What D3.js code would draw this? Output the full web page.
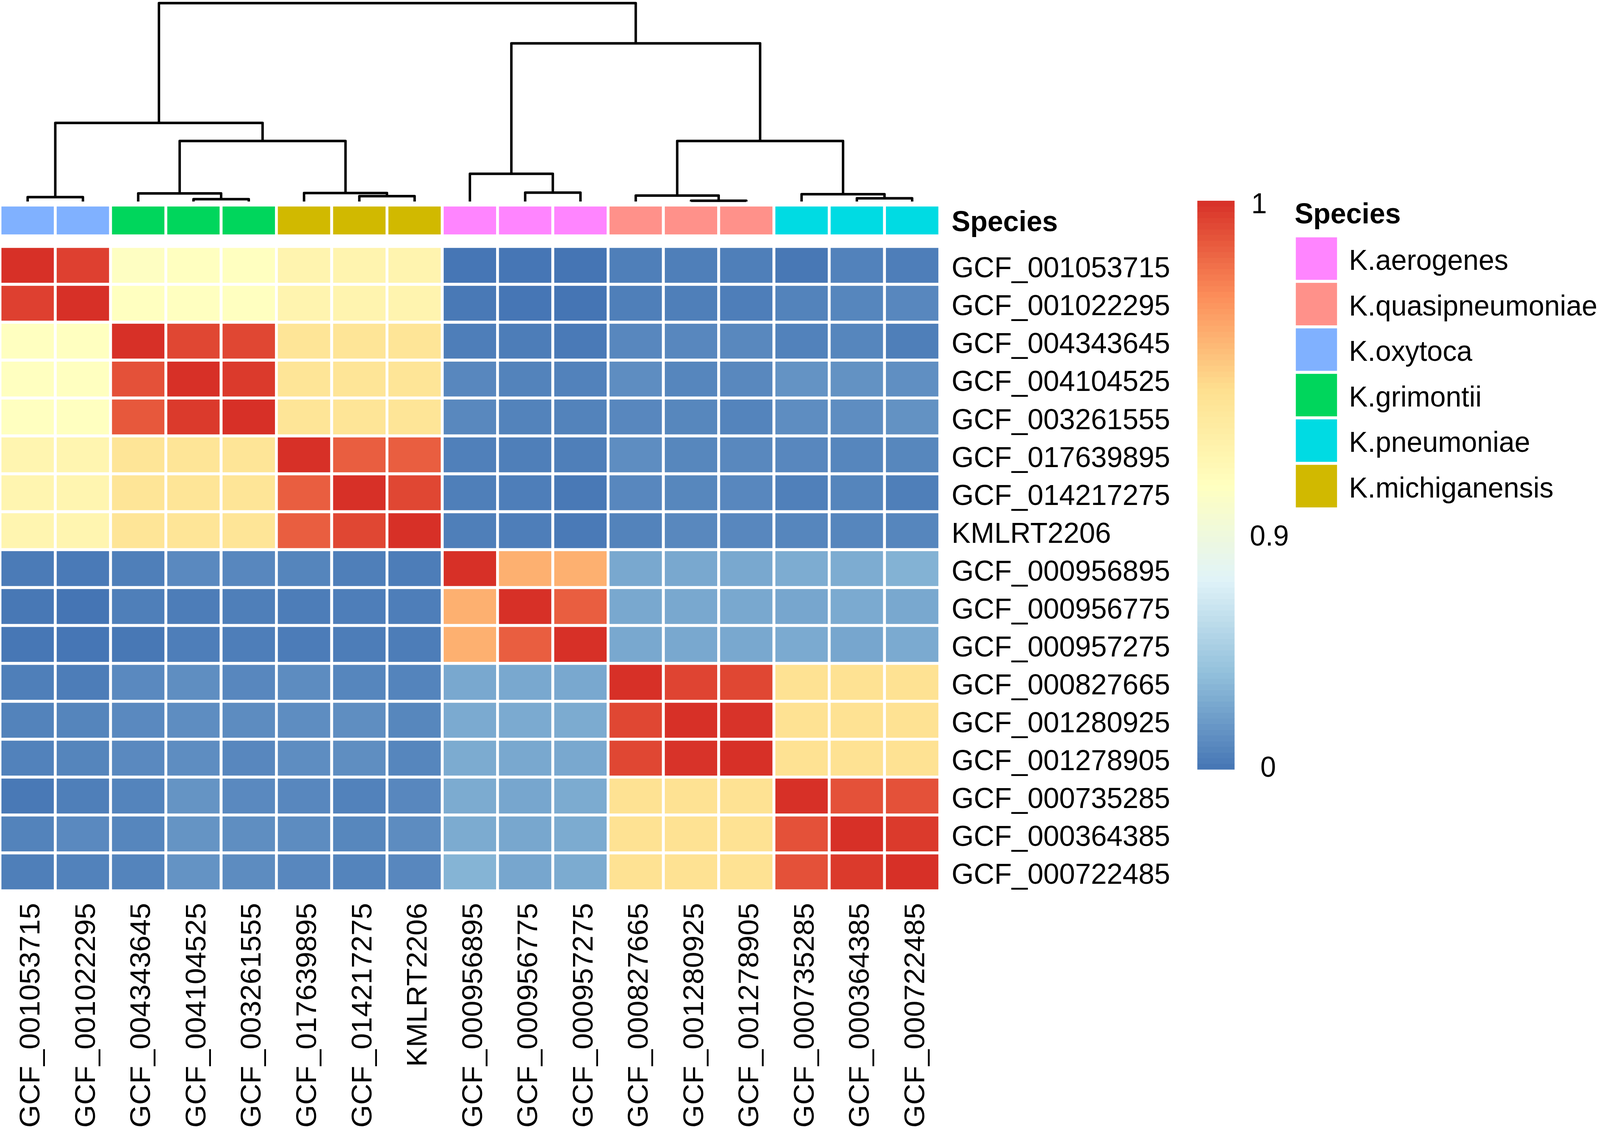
<!DOCTYPE html>
<html>
<head>
<meta charset="utf-8">
<script src="https://cdn.jsdelivr.net/npm/d3@7"></script>
<style>
  html, body { margin: 0; padding: 0; background: #ffffff; overflow: hidden; }
  text { font-family: "Liberation Sans", Arial, sans-serif; fill: #000000; }
</style>
</head>
<body>
<div id="chart"></div>
<script>
// Genomes, in the order of the clustered rows and columns.
const genomes = [
  'GCF_001053715', 'GCF_001022295', 'GCF_004343645', 'GCF_004104525', 'GCF_003261555',
  'GCF_017639895', 'GCF_014217275', 'KMLRT2206', 'GCF_000956895', 'GCF_000956775',
  'GCF_000957275', 'GCF_000827665', 'GCF_001280925', 'GCF_001278905', 'GCF_000735285',
  'GCF_000364385', 'GCF_000722485'
];

const speciesNames = [ 'K.aerogenes', 'K.quasipneumoniae', 'K.oxytoca', 'K.grimontii', 'K.pneumoniae', 'K.michiganensis' ];
const speciesColors = [ '#ff85ff', '#ff918a', '#80b1ff', '#00d65c', '#00dbe3', '#d1b900' ];
const genomeSpecies = [ 2, 2, 3, 3, 3, 5, 5, 5, 0, 0, 0, 1, 1, 1, 4, 4, 4 ];

// Similarity values.
const similarity = [
  [ 1, .995, .914, .915, .915, .925, .925, .925, .005, .005, 0, .048, .048, .048, .014, .063, .043 ],
  [ .995, 1, .915, .915, .915, .925, .925, .925, .019, .005, 0, .048, .048, .043, .067, .082, .091 ],
  [ .915, .915, 1, .993, .993, .939, .939, .939, .043, .038, .024, .091, .091, .096, .063, .082, .048 ],
  [ .915, .915, .990, 1, .997, .939, .939, .939, .091, .067, .063, .120, .082, .096, .149, .144, .130 ],
  [ .915, .915, .988, .997, 1, .939, .939, .939, .096, .067, .067, .091, .087, .072, .120, .120, .144 ],
  [ .924, .924, .939, .939, .939, 1, .986, .986, .053, .048, .048, .120, .087, .096, .091, .082, .087 ],
  [ .924, .924, .939, .939, .939, .986, 1, .993, .048, .043, .019, .091, .087, .091, .053, .077, .048 ],
  [ .924, .924, .939, .939, .939, .986, .993, 1, .048, .043, .024, .067, .096, .091, .082, .082, .082 ],
  [ .029, .024, .048, .101, .091, .077, .048, .038, 1, .960, .960, .250, .250, .250, .270, .270, .300 ],
  [ .014, 0, .048, .038, .048, .038, .043, .043, .960, 1, .986, .250, .250, .250, .240, .260, .250 ],
  [ .010, .005, .014, .043, .043, .034, .038, .038, .960, .986, 1, .250, .250, .250, .260, .240, .260 ],
  [ .048, .038, .101, .125, .091, .115, .082, .072, .250, .250, .250, 1, .994, .993, .942, .942, .942 ],
  [ .067, .077, .101, .120, .115, .120, .125, .087, .260, .260, .265, .993, 1, .999, .942, .942, .942 ],
  [ .063, .077, .101, .120, .091, .120, .125, .082, .265, .250, .250, .993, .999, 1, .942, .942, .942 ],
  [ .019, .048, .072, .154, .101, .091, .063, .091, .265, .240, .265, .942, .942, .942, 1, .990, .990 ],
  [ .067, .101, .082, .154, .125, .115, .087, .115, .265, .245, .265, .942, .942, .942, .990, 1, .997 ],
  [ .048, .063, .072, .149, .115, .091, .072, .091, .310, .240, .265, .942, .942, .942, .990, .997, 1 ]
];

// Column dendrogram, written like hclust: negative = leaf, positive = earlier merge.
const mergePairs = [
  [ -13, -14 ], [ -1, -2 ], [ -4, -5 ], [ -3, 3 ], [ -7, -8 ], [ -6, 5 ], [ 4, 6 ], [ 2, 7 ],
  [ -10, -11 ], [ -9, 9 ], [ -12, 1 ], [ -16, -17 ], [ -15, 12 ], [ 11, 13 ], [ 10, 14 ], [ 8, 15 ]
];
const mergeHeights = [ .004, .022, .012, .041, .027, .043, .305, .396, .045, .14, .03, .016, .037, .305, .797, 1 ];

// Colour legend.
const legendTicks = [ 0, 0.9, 1 ];
const legendTickLabels = [ '0', '0.9', '1' ];
const legendPositions = [ 0, 0.41, 1 ];
const rampColors = [ '#4575b4', '#91bfdb', '#e0f3f8', '#ffffbf', '#fee090', '#fc8d59', '#d73027' ];

const pageWidth = 4212, pageHeight = 2896;
const fontSize = 75;

// The browser window can come out narrower than asked, so fit the drawing to it.
const svg = d3.select( 'div#chart' )
  .append( 'svg' )
    .attr( 'width', window.innerWidth )
    .attr( 'height', window.innerHeight )
    .attr( 'viewBox', '0 0 ' + pageWidth + ' ' + pageHeight )
    .attr( 'preserveAspectRatio', 'none' )
    .style( 'display', 'block' );

const xScale = d3.scaleBand().domain( genomes ).range( [ 0, 2474 ] );
const yScale = d3.scaleBand().domain( genomes ).range( [ 631, 2281 ] );

// value -> position on the colour bar -> colour
const positionScale = d3.scaleLinear().domain( legendTicks ).range( legendPositions );
const rampScale = d3.scaleLinear()
  .domain( rampColors.map( function( c, i ) { return i / ( rampColors.length - 1 ); } ) )
  .range( rampColors );
function valueColor( v ) { return rampScale( positionScale( v ) ); }

// Heatmap cells
const cells = [];
similarity.forEach( function( row, r ) {
  row.forEach( function( v, c ) {
    cells.push( { row: genomes[r], col: genomes[c], value: v } );
  });
});

svg.append( 'g' ).selectAll( 'rect' )
  .data( cells )
  .enter()
  .append( 'rect' )
    .attr( 'x', function( d ) { return xScale( d.col ); } )
    .attr( 'y', function( d ) { return yScale( d.row ); } )
    .attr( 'width', xScale.bandwidth() )
    .attr( 'height', yScale.bandwidth() )
    .style( 'fill', function( d ) { return valueColor( d.value ); } )
    .style( 'stroke', '#ffffff' )
    .style( 'stroke-width', 7.5 );

// Species annotation bar
svg.append( 'g' ).selectAll( 'rect' )
  .data( genomes )
  .enter()
  .append( 'rect' )
    .attr( 'x', function( d ) { return xScale( d ); } )
    .attr( 'y', 525 )
    .attr( 'width', xScale.bandwidth() )
    .attr( 'height', 79 )
    .style( 'fill', function( d, i ) { return speciesColors[ genomeSpecies[i] ]; } )
    .style( 'stroke', '#ffffff' )
    .style( 'stroke-width', 7.5 );

svg.append( 'text' )
  .attr( 'x', 2505 )
  .attr( 'y', 592 )
  .style( 'font-size', '74px' )
  .style( 'font-weight', 'bold' )
  .text( 'Species' );

// Row labels
const rowAxis = svg.append( 'g' )
  .attr( 'transform', 'translate( 2474, 0 )' )
  .call( d3.axisRight( yScale ).tickSize( 0 ).tickPadding( 31 ) );
rowAxis.select( '.domain' ).remove();
rowAxis.selectAll( 'text' )
  .attr( 'dy', '0.41em' )
  .style( 'font-size', fontSize + 'px' );

// Column labels
const colAxis = svg.append( 'g' )
  .attr( 'transform', 'translate( 0, 2312 )' )
  .call( d3.axisBottom( xScale ).tickSize( 0 ) );
colAxis.select( '.domain' ).remove();
colAxis.selectAll( 'text' )
  .attr( 'x', 0 )
  .attr( 'y', 0 )
  .attr( 'dy', '0.42em' )
  .attr( 'text-anchor', 'end' )
  .attr( 'transform', 'rotate( -90 )' )
  .style( 'font-size', fontSize + 'px' );

// Dendrogram
const heightScale = d3.scaleLinear().domain( [ 0, 1 ] ).range( [ 516, 8 ] );
const merged = [];
function nodeOf( id ) {
  if ( id < 0 ) {
    return { x: xScale( genomes[ -id - 1 ] ) + xScale.bandwidth() / 2, y: heightScale( 0 ) };
  }
  return merged[ id - 1 ];
}
const dendroPath = d3.path();
mergePairs.forEach( function( pair, i ) {
  const a = nodeOf( pair[0] ), b = nodeOf( pair[1] ), top = heightScale( mergeHeights[i] );
  dendroPath.moveTo( a.x, a.y );
  dendroPath.lineTo( a.x, top );
  dendroPath.lineTo( b.x, top );
  dendroPath.lineTo( b.x, b.y );
  merged.push( { x: ( a.x + b.x ) / 2, y: top } );
});
svg.append( 'path' )
  .attr( 'd', dendroPath.toString() )
  .style( 'fill', 'none' )
  .style( 'stroke', '#000000' )
  .style( 'stroke-width', 6.5 )
  .style( 'stroke-linejoin', 'round' );

// Colour bar, drawn in thin steps like the original
const barScale = d3.scaleLinear().domain( [ 0, 1 ] ).range( [ 1970, 514 ] );
const steps = d3.range( 0, 100 );
svg.append( 'g' ).selectAll( 'rect' )
  .data( steps )
  .enter()
  .append( 'rect' )
    .attr( 'x', 3152 )
    .attr( 'y', function( d ) { return barScale( ( d + 1 ) / 100 ); } )
    .attr( 'width', 98 )
    .attr( 'height', function( d ) { return barScale( d / 100 ) - barScale( ( d + 1 ) / 100 ) + 0.6; } )
    .style( 'fill', function( d ) { return rampScale( ( d + 0.5 ) / 100 ); } );

const tickScale = d3.scaleLinear().domain( [ 0, 1 ] ).range( [ 1989, 546 ] );
const tickLeft = [ 3318, 3290, 3294 ];
svg.append( 'g' ).selectAll( 'text' )
  .data( legendTickLabels )
  .enter()
  .append( 'text' )
    .attr( 'x', function( d, i ) { return tickLeft[i]; } )
    .attr( 'y', function( d, i ) { return tickScale( positionScale( legendTicks[i] ) ); } )
    .style( 'font-size', '74px' )
    .text( function( d ) { return d; } );

// Species legend
const legendScale = d3.scaleBand().domain( speciesNames ).range( [ 604, 1303 ] );
svg.append( 'text' )
  .attr( 'x', 3408 )
  .attr( 'y', 572 )
  .style( 'font-size', '74px' )
  .style( 'font-weight', 'bold' )
  .text( 'Species' );

const legendRows = svg.append( 'g' ).selectAll( 'g' )
  .data( speciesNames )
  .enter()
  .append( 'g' );
legendRows.append( 'rect' )
  .attr( 'x', 3407.5 )
  .attr( 'y', function( d ) { return legendScale( d ); } )
  .attr( 'width', 116 )
  .attr( 'height', legendScale.bandwidth() )
  .style( 'fill', function( d, i ) { return speciesColors[i]; } )
  .style( 'stroke', '#ffffff' )
  .style( 'stroke-width', 7.5 );
legendRows.append( 'text' )
  .attr( 'x', 3551 )
  .attr( 'y', function( d ) { return legendScale( d ) + legendScale.bandwidth() / 2 + 29; } )
  .style( 'font-size', '74px' )
  .text( function( d ) { return d; } );
</script>
</body>
</html>
